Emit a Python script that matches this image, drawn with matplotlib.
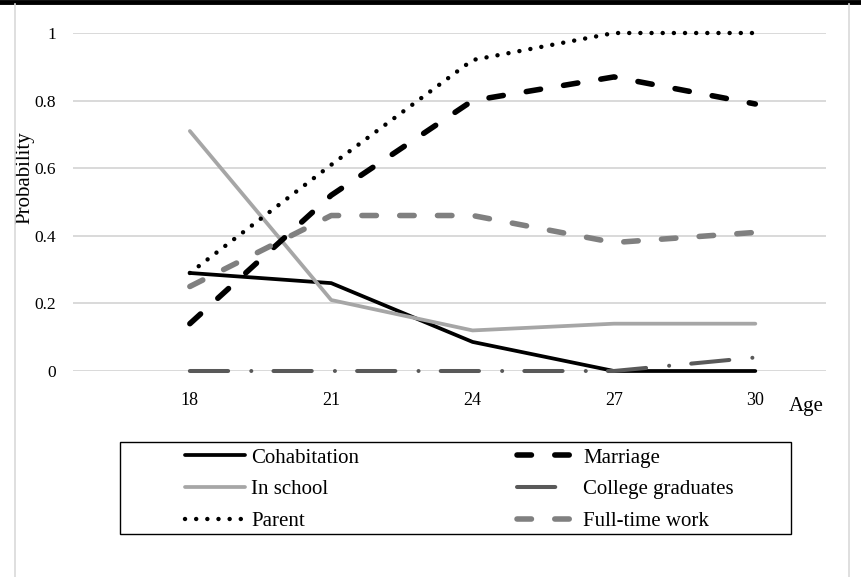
import matplotlib
matplotlib.use("Agg")
import matplotlib.pyplot as plt
from matplotlib.lines import Line2D
from matplotlib.patches import Rectangle

ages = [18, 21, 24, 27, 30]
cohabitation = [0.29, 0.26, 0.086, 0.0, 0.0]
in_school = [0.71, 0.21, 0.12, 0.14, 0.14]
parent = [0.29, 0.61, 0.92, 1.0, 1.0]
marriage = [0.14, 0.52, 0.80, 0.87, 0.79]
college = [0.0, 0.0, 0.0, 0.0, 0.04]
fulltime = [0.25, 0.46, 0.46, 0.38, 0.41]
yticks = [0, 0.2, 0.4, 0.6, 0.8, 1]
ytick_labels = ["0", "0.2", "0.4", "0.6", "0.8", "1"]

plt.rcParams['font.family'] = ['Liberation Serif', 'DejaVu Serif']

W, H = 861, 577
fig = plt.figure(figsize=(W / 100, H / 100), dpi=100)
fig.patch.set_facecolor('white')

def fx(px):
    return px / W

def fy(py):
    return 1 - py / H

# axes position in pixels
x0, x1 = 73, 826
y_top, y_bot = 33, 371
ax = fig.add_axes([fx(x0), fy(y_bot), (x1 - x0) / W, (y_bot - y_top) / H])

common = dict(clip_on=False, zorder=3)
l1, = ax.plot(ages, cohabitation, color='black', lw=2.7, solid_capstyle='round',
              solid_joinstyle='round', label='Cohabitation', **common)
l2, = ax.plot(ages, in_school, color='#a6a6a6', lw=2.7, solid_capstyle='round',
              solid_joinstyle='round', label='In school', **common)
l3, = ax.plot(ages, parent, color='black', lw=3.2, dashes=(0.01, 2.5),
              dash_capstyle='round', label='Parent', **common)
l4, = ax.plot(ages, marriage, color='black', lw=4.0, dashes=(2.6, 4.2),
              dash_capstyle='round', label='Marriage', **common)
l5, = ax.plot(ages, college, color='#595959', lw=2.9, dashes=(9.5, 5.75, 0.01, 5.5),
              dash_capstyle='round', label='College graduates', **common)
l6, = ax.plot(ages, fulltime, color='#808080', lw=4.0, dashes=(2.6, 4.2),
              dash_capstyle='round', label='Full-time work', **common)

ax.set_xlim(15.52, 31.5)
ax.set_ylim(0, 1)
ax.set_yticks(yticks)
ax.set_yticklabels(ytick_labels)
ax.set_xticks(ages)
ax.set_xticklabels([str(a) for a in ages])
ax.grid(axis='y', color='#d9d9d9', lw=1.4, zorder=0)
ax.set_axisbelow(True)
for s in ax.spines.values():
    s.set_visible(False)
ax.tick_params(axis='x', length=0, labelsize=13, colors='black', pad=15)
ax.tick_params(axis='y', length=0, labelsize=12.5, colors='black', pad=12)

ax.set_ylabel('Probability', fontsize=15, va='center')
ax.yaxis.set_label_coords((24.5 - x0) / (x1 - x0), (y_bot - 178) / (y_bot - y_top))

fig.text(fx(806), fy(406), 'Age', fontsize=15, ha='center', va='center')

# legend: two columns inside a framed box
leg_kw = dict(loc='upper left', fontsize=15, frameon=False, handlelength=2.88,
              handletextpad=0.3, labelspacing=0.58, borderpad=0, borderaxespad=0)
leg1 = fig.legend(handles=[l1, l2, l3], bbox_to_anchor=(fx(185), fy(448)), **leg_kw)
leg2 = fig.legend(handles=[l4, l5, l6], bbox_to_anchor=(fx(517), fy(448)), **leg_kw)
fig.add_artist(Rectangle((fx(120), fy(534)), (791 - 120) / W, (534 - 442) / H,
                         transform=fig.transFigure, fill=False, edgecolor='black', lw=1.0))

# decorative frame lines
fig.add_artist(Line2D([0, 1], [fy(2), fy(2)], color='black', lw=3.5, transform=fig.transFigure))
fig.add_artist(Line2D([fx(15), fx(15)], [0, fy(4)], color='#d9d9d9', lw=1.2, transform=fig.transFigure))
fig.add_artist(Line2D([fx(849), fx(849)], [0, fy(4)], color='#d9d9d9', lw=1.2, transform=fig.transFigure))

fig.savefig('out.png', dpi=100)
